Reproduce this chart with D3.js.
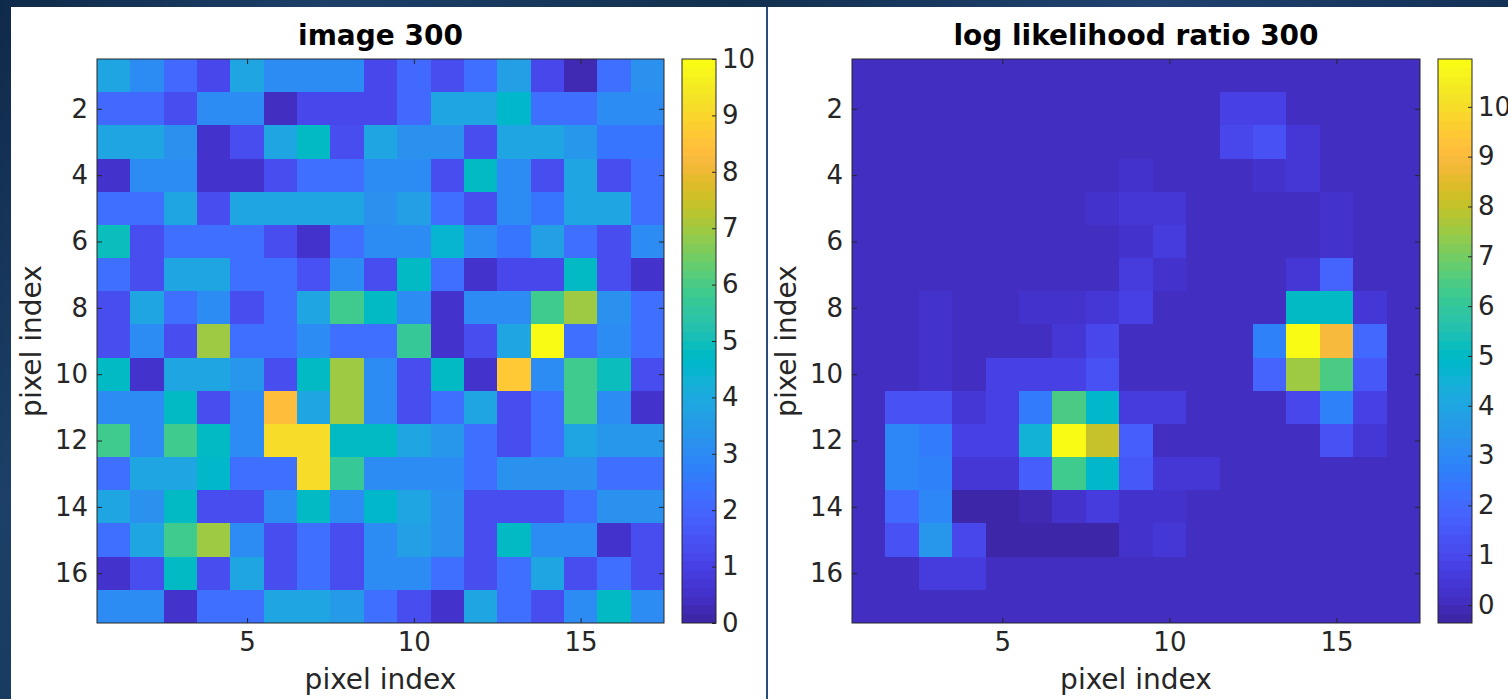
<!DOCTYPE html>
<html>
<head>
<meta charset="utf-8">
<script src="https://cdn.jsdelivr.net/npm/d3@7"></script>
<style>
  html, body { margin: 0; padding: 0; background: #13304f; }
  svg { display: block; }
</style>
</head>
<body>
<svg id="chart" width="1508" height="699"></svg>
<script>
// ---- data ----------------------------------------------------------------
const pixelIndex = d3.range(1, 18);
const xTickValues = [5, 10, 15];
const yTickValues = [2, 4, 6, 8, 10, 12, 14, 16];
const imageColorTicks = [0, 1, 2, 3, 4, 5, 6, 7, 8, 9, 10];
const llrColorTicks = [0, 1, 2, 3, 4, 5, 6, 7, 8, 9, 10];
const imageRange = [0, 10];
const llrRange = [-0.36, 10.96];

// observed photon counts, rows top to bottom
const imageValues = [
  [3.9, 3.1, 2.1, 1.2, 3.9, 3.1, 3.1, 3.1, 1.2, 2.1, 1.3, 2.2, 3.7, 1.2, 0.3, 2.3, 3.2],
  [2.1, 2.1, 1.3, 3.1, 3.1, 0.4, 1.2, 1.2, 1.2, 2.1, 3.9, 3.9, 4.6, 2.2, 2.2, 3.1, 3.1],
  [3.9, 3.9, 3.2, 0.5, 1.4, 3.9, 4.8, 1.3, 3.8, 3.2, 3.2, 1.3, 3.8, 3.8, 3.4, 2.4, 2.4],
  [0.5, 3.0, 3.0, 0.5, 0.5, 1.3, 2.2, 2.2, 3.0, 3.0, 1.3, 4.7, 3.1, 1.3, 3.8, 1.3, 2.3],
  [2.2, 2.2, 3.8, 1.4, 3.9, 3.9, 3.9, 3.9, 3.2, 3.6, 2.3, 1.4, 3.0, 2.4, 3.8, 3.8, 2.3],
  [4.9, 1.4, 2.2, 2.2, 2.2, 1.4, 0.6, 2.2, 3.1, 3.1, 4.5, 3.1, 2.4, 3.7, 2.3, 1.3, 3.1],
  [2.2, 1.4, 3.9, 3.9, 2.2, 2.2, 1.5, 3.0, 1.4, 4.7, 2.2, 0.6, 1.2, 1.2, 4.7, 1.3, 0.6],
  [1.3, 3.8, 2.3, 3.1, 1.4, 2.2, 3.9, 5.8, 4.7, 3.1, 0.6, 3.1, 3.1, 5.9, 6.9, 3.2, 2.3],
  [1.3, 3.1, 1.3, 7.0, 2.2, 2.2, 3.0, 2.2, 2.3, 5.7, 0.6, 1.4, 3.9, 10.0, 2.3, 3.1, 2.2],
  [4.8, 0.5, 3.9, 3.9, 3.3, 1.4, 4.8, 7.0, 3.1, 1.4, 4.8, 0.5, 8.7, 3.1, 5.9, 4.9, 1.4],
  [3.0, 3.0, 4.8, 1.3, 3.1, 8.4, 3.9, 7.0, 3.1, 1.4, 2.2, 3.8, 1.4, 2.2, 5.9, 3.1, 0.5],
  [5.9, 3.1, 5.8, 4.8, 3.1, 9.2, 9.2, 4.8, 4.7, 3.8, 3.4, 2.3, 1.4, 2.3, 3.8, 3.3, 3.3],
  [2.2, 3.8, 3.8, 4.6, 2.2, 2.2, 9.1, 5.7, 3.1, 3.1, 3.1, 2.3, 3.2, 3.2, 3.2, 2.3, 2.3],
  [3.8, 3.2, 4.7, 1.4, 1.4, 3.1, 4.7, 3.0, 4.6, 3.8, 3.2, 1.4, 1.4, 1.4, 2.3, 3.2, 3.2],
  [2.2, 3.8, 5.8, 7.0, 3.1, 1.4, 2.2, 1.4, 3.1, 3.7, 3.2, 1.4, 4.8, 3.1, 3.1, 0.5, 1.4],
  [0.6, 1.4, 4.7, 1.4, 3.8, 1.4, 2.2, 1.4, 3.1, 3.1, 2.3, 1.4, 2.3, 3.8, 1.4, 2.3, 1.4],
  [3.1, 3.1, 0.6, 2.2, 2.2, 3.8, 3.8, 3.5, 2.3, 1.4, 0.6, 3.8, 2.3, 1.4, 3.1, 4.8, 3.1]
];

// log likelihood ratio per pixel, rows top to bottom
const llrValues = [
  [0.1, 0.1, 0.1, 0.1, 0.1, 0.1, 0.1, 0.1, 0.1, 0.1, 0.1, 0.1, 0.1, 0.1, 0.1, 0.1, 0.1],
  [0.1, 0.1, 0.1, 0.1, 0.1, 0.1, 0.1, 0.1, 0.1, 0.1, 0.1, 0.8, 0.8, 0.1, 0.1, 0.1, 0.1],
  [0.1, 0.1, 0.1, 0.1, 0.1, 0.1, 0.1, 0.1, 0.1, 0.1, 0.1, 0.9, 1.3, 0.4, 0.1, 0.1, 0.1],
  [0.1, 0.1, 0.1, 0.1, 0.1, 0.1, 0.1, 0.1, 0.3, 0.1, 0.1, 0.1, 0.3, 0.5, 0.1, 0.1, 0.1],
  [0.1, 0.1, 0.1, 0.1, 0.1, 0.1, 0.1, 0.2, 0.4, 0.5, 0.1, 0.1, 0.1, 0.1, 0.2, 0.1, 0.1],
  [0.1, 0.1, 0.1, 0.1, 0.1, 0.1, 0.1, 0.1, 0.3, 0.6, 0.1, 0.0, 0.0, 0.1, 0.2, 0.1, 0.1],
  [0.1, 0.1, 0.1, 0.1, 0.1, 0.1, 0.1, 0.1, 0.7, 0.3, 0.1, 0.1, 0.1, 0.4, 1.9, 0.1, 0.1],
  [0.1, 0.1, 0.2, 0.1, 0.1, 0.3, 0.3, 0.5, 0.8, 0.1, 0.1, 0.1, 0.1, 5.1, 5.1, 0.4, 0.1],
  [0.1, 0.1, 0.3, 0.1, 0.1, 0.1, 0.4, 1.0, 0.1, 0.1, 0.1, 0.1, 2.8, 10.96, 8.9, 2.0, 0.1],
  [0.1, 0.1, 0.3, 0.1, 0.8, 0.8, 0.8, 1.3, 0.1, 0.1, 0.1, 0.1, 1.8, 7.5, 6.5, 1.5, 0.1],
  [0.1, 1.3, 1.3, 0.4, 0.8, 2.6, 6.4, 4.8, 0.6, 0.6, 0.1, 0.1, 0.1, 1.0, 2.8, 0.8, 0.1],
  [0.1, 3.0, 2.6, 0.8, 0.8, 4.5, 10.8, 8.1, 1.6, 0.1, 0.1, 0.0, 0.0, 0.0, 1.3, 0.4, 0.1],
  [0.1, 3.0, 2.8, 0.5, 0.5, 1.6, 6.2, 4.8, 1.5, 0.4, 0.4, 0.1, 0.1, 0.1, 0.1, 0.1, 0.1],
  [0.1, 2.0, 3.0, -0.2, -0.2, -0.1, 0.3, 0.6, 0.2, 0.3, 0.1, 0.1, 0.1, 0.1, 0.1, 0.1, 0.1],
  [0.1, 1.3, 3.5, 1.0, -0.3, -0.2, -0.36, -0.36, 0.2, 0.5, 0.1, 0.1, 0.1, 0.1, 0.1, 0.1, 0.1],
  [0.1, 0.1, 0.7, 0.7, 0.1, 0.1, 0.1, 0.1, 0.1, 0.1, 0.1, 0.1, 0.1, 0.1, 0.1, 0.1, 0.1],
  [0.1, 0.1, 0.1, 0.1, 0.1, 0.1, 0.1, 0.1, 0.1, 0.1, 0.1, 0.1, 0.1, 0.1, 0.1, 0.1, 0.1]
];

// 64-entry parula colormap
const parula = [
  [0.2422,0.1504,0.6603],[0.2504,0.1650,0.7076],[0.2578,0.1818,0.7511],[0.2647,0.1978,0.7952],
  [0.2706,0.2147,0.8364],[0.2751,0.2342,0.8710],[0.2783,0.2559,0.8991],[0.2803,0.2782,0.9221],
  [0.2813,0.3006,0.9414],[0.2810,0.3228,0.9579],[0.2795,0.3447,0.9717],[0.2760,0.3667,0.9829],
  [0.2699,0.3892,0.9906],[0.2602,0.4123,0.9952],[0.2440,0.4358,0.9988],[0.2206,0.4603,0.9973],
  [0.1963,0.4847,0.9892],[0.1834,0.5074,0.9798],[0.1786,0.5289,0.9682],[0.1764,0.5499,0.9520],
  [0.1687,0.5703,0.9359],[0.1540,0.5902,0.9218],[0.1460,0.6091,0.9079],[0.1380,0.6276,0.8973],
  [0.1248,0.6459,0.8883],[0.1113,0.6635,0.8763],[0.0952,0.6798,0.8598],[0.0689,0.6948,0.8394],
  [0.0297,0.7082,0.8163],[0.0036,0.7203,0.7917],[0.0067,0.7312,0.7660],[0.0433,0.7411,0.7394],
  [0.0964,0.7500,0.7120],[0.1408,0.7584,0.6842],[0.1717,0.7670,0.6554],[0.1938,0.7758,0.6251],
  [0.2161,0.7843,0.5923],[0.2470,0.7918,0.5567],[0.2906,0.7973,0.5188],[0.3406,0.8008,0.4789],
  [0.3909,0.8029,0.4354],[0.4456,0.8024,0.3909],[0.5044,0.7993,0.3480],[0.5616,0.7942,0.3045],
  [0.6174,0.7876,0.2612],[0.6720,0.7793,0.2227],[0.7242,0.7698,0.1910],[0.7738,0.7598,0.1646],
  [0.8203,0.7498,0.1535],[0.8634,0.7406,0.1596],[0.9035,0.7330,0.1774],[0.9393,0.7288,0.2100],
  [0.9728,0.7298,0.2394],[0.9956,0.7434,0.2371],[0.9970,0.7659,0.2199],[0.9952,0.7893,0.2028],
  [0.9892,0.8136,0.1885],[0.9786,0.8386,0.1766],[0.9676,0.8639,0.1643],[0.9610,0.8890,0.1537],
  [0.9597,0.9135,0.1423],[0.9628,0.9373,0.1265],[0.9691,0.9606,0.1064],[0.9769,0.9839,0.0805]
].map(c => d3.rgb(c[0] * 255, c[1] * 255, c[2] * 255).formatHex());

// ---- page ----------------------------------------------------------------
const svg = d3.select('#chart');
const FONT = "'DejaVu Sans', sans-serif";
const INK = '#262626';

const defs = svg.append('defs');
const bgGrad = defs.append('linearGradient').attr('id', 'bgGrad')
  .attr('x1', 0).attr('y1', 0).attr('x2', 1).attr('y2', 0.3);
[['0', '#0f2a4a'], ['0.2', '#1d4068'], ['0.45', '#12304f'], ['0.7', '#1f4270'], ['1', '#102b4b']]
  .forEach(([o, c]) => bgGrad.append('stop').attr('offset', o).attr('stop-color', c));

svg.append('rect').attr('width', 1508).attr('height', 699).attr('fill', 'url(#bgGrad)');
// white slide panels and the divider between them
svg.append('rect').attr('x', 11).attr('y', 7).attr('width', 755).attr('height', 692).attr('fill', '#ffffff');
svg.append('rect').attr('x', 768).attr('y', 7).attr('width', 740).attr('height', 692).attr('fill', '#ffffff');
svg.append('rect').attr('x', 766).attr('y', 7).attr('width', 2).attr('height', 692).attr('fill', '#2b4d7e');

function styleAxis(sel, fontSize) {
  sel.select('.domain').remove();
  sel.selectAll('.tick line').attr('stroke', INK).attr('stroke-width', 1);
  sel.selectAll('.tick text').attr('fill', INK).style('font-family', FONT).style('font-size', fontSize + 'px');
}

function drawPanel(p) {
  const g = svg.append('g');
  const x = d3.scaleLinear().domain([0.5, 17.5]).range([p.x0, p.x1]);
  const y = d3.scaleLinear().domain([0.5, 17.5]).range([p.y0, p.y1]);
  const color = d3.scaleQuantize().domain(p.range).range(parula);

  const cells = [];
  p.values.forEach((row, r) => row.forEach((v, c) => cells.push({ r: pixelIndex[r], c: pixelIndex[c], v })));

  g.append('g').selectAll('rect').data(cells).join('rect')
    .attr('x', d => x(d.c - 0.5))
    .attr('y', d => y(d.r - 0.5))
    .attr('width', d => x(d.c + 0.5) - x(d.c - 0.5))
    .attr('height', d => y(d.r + 0.5) - y(d.r - 0.5))
    .attr('fill', d => color(d.v))
    .attr('shape-rendering', 'crispEdges');

  // axes with inward ticks mirrored on all four sides
  g.append('g').attr('transform', `translate(0,${p.y1})`)
    .call(d3.axisBottom(x).tickValues(xTickValues).tickSize(-5).tickPadding(10))
    .call(s => styleAxis(s, 26));
  g.append('g').attr('transform', `translate(0,${p.y0})`)
    .call(d3.axisTop(x).tickValues(xTickValues).tickSize(-5).tickFormat(() => ''))
    .call(s => styleAxis(s, 26));
  g.append('g').attr('transform', `translate(${p.x0},0)`)
    .call(d3.axisLeft(y).tickValues(yTickValues).tickSize(-5).tickPadding(9))
    .call(s => styleAxis(s, 26));
  g.append('g').attr('transform', `translate(${p.x1},0)`)
    .call(d3.axisRight(y).tickValues(yTickValues).tickSize(-5).tickFormat(() => ''))
    .call(s => styleAxis(s, 26));

  g.append('rect').attr('x', p.x0).attr('y', p.y0)
    .attr('width', p.x1 - p.x0).attr('height', p.y1 - p.y0)
    .attr('fill', 'none').attr('stroke', INK).attr('stroke-width', 1);

  // axis labels and title
  const cx = (p.x0 + p.x1) / 2, cy = (p.y0 + p.y1) / 2;
  g.append('text').attr('x', cx).attr('y', 689).attr('text-anchor', 'middle')
    .style('font-family', FONT).style('font-size', '28px').attr('fill', INK).text('pixel index');
  g.append('text').attr('transform', `translate(${p.x0 - 56},${cy}) rotate(-90)`)
    .attr('text-anchor', 'middle')
    .style('font-family', FONT).style('font-size', '28px').attr('fill', INK).text('pixel index');
  g.append('text').attr('x', cx).attr('y', 45).attr('text-anchor', 'middle')
    .style('font-family', FONT).style('font-size', '28px').style('font-weight', 'bold')
    .attr('fill', '#000000').text(p.title);

  // colorbar
  const cb = d3.scaleLinear().domain(p.range).range([p.y1, p.y0]);
  const n = parula.length;
  const step = (p.range[1] - p.range[0]) / n;
  g.append('g').selectAll('rect').data(parula).join('rect')
    .attr('x', p.cbx0)
    .attr('width', p.cbx1 - p.cbx0)
    .attr('y', (c, i) => cb(p.range[0] + (i + 1) * step))
    .attr('height', (c, i) => cb(p.range[0] + i * step) - cb(p.range[0] + (i + 1) * step))
    .attr('fill', c => c)
    .attr('shape-rendering', 'crispEdges');
  g.append('g').attr('transform', `translate(${p.cbx1},0)`)
    .call(d3.axisRight(cb).tickValues(p.ticks).tickSize(-4).tickPadding(6))
    .call(s => styleAxis(s, 26));
  g.append('rect').attr('x', p.cbx0).attr('y', p.y0)
    .attr('width', p.cbx1 - p.cbx0).attr('height', p.y1 - p.y0)
    .attr('fill', 'none').attr('stroke', INK).attr('stroke-width', 1);
}

drawPanel({
  title: 'image 300', values: imageValues, range: imageRange, ticks: imageColorTicks,
  x0: 97, x1: 664, y0: 59, y1: 623, cbx0: 682, cbx1: 716
});
drawPanel({
  title: 'log likelihood ratio 300', values: llrValues, range: llrRange, ticks: llrColorTicks,
  x0: 852, x1: 1420, y0: 59, y1: 623, cbx0: 1438, cbx1: 1472
});
</script>
</body>
</html>
